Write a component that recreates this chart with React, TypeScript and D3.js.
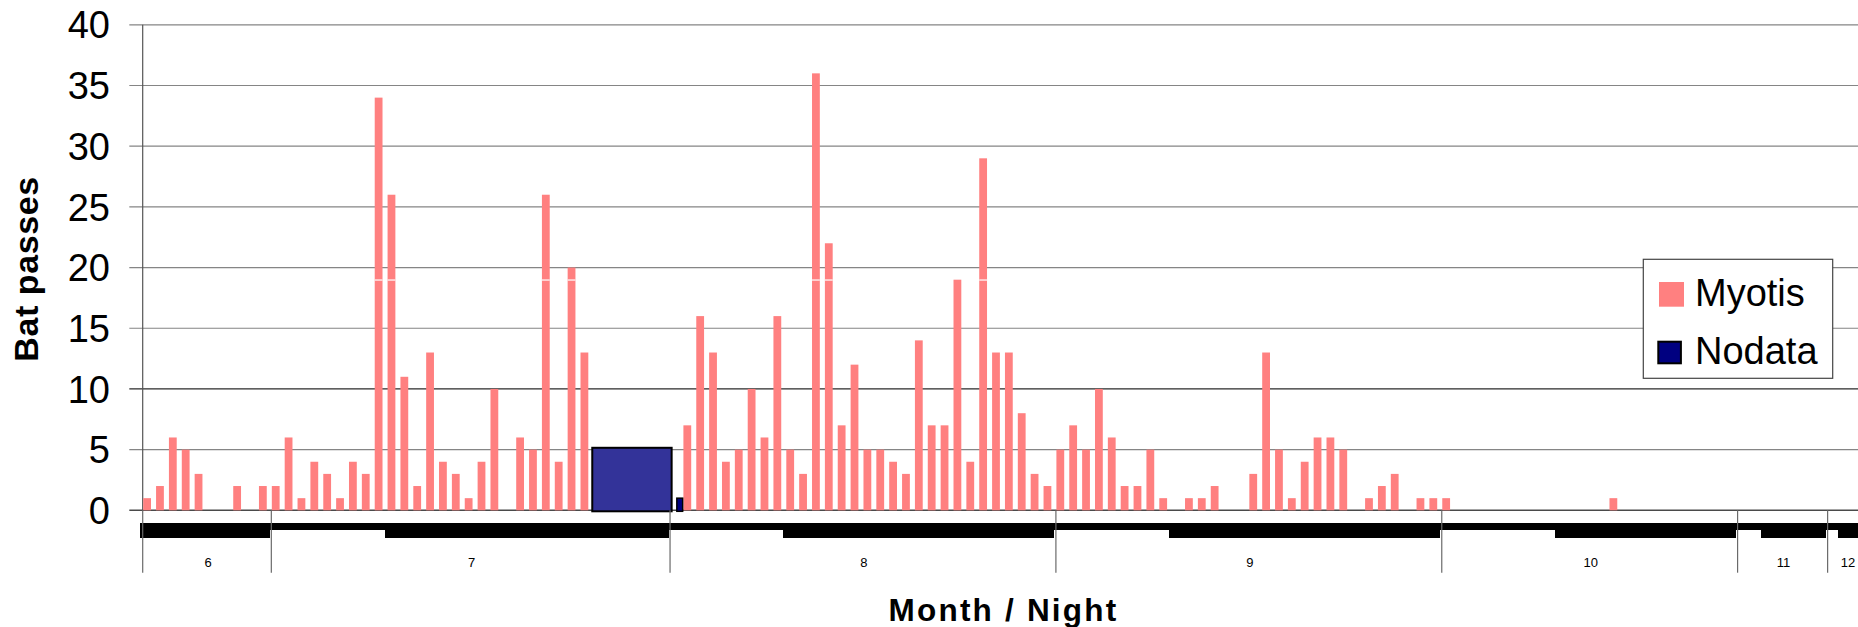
import React, { useEffect, useRef } from 'react';
import * as d3 from 'd3';

// month groups of the category axis
const months = ['6', '7', '8', '9', '10', '11', '12'];

// nights recorded in each month (inner category level)
const nights: number[][] = [
  [21, 22, 23, 24, 25, 26, 27, 28, 29, 30],
  [1, 2, 3, 4, 5, 6, 7, 8, 9, 10, 11, 12, 13, 14, 15, 16, 17, 18, 19, 20, 21, 22, 23, 24, 25, 26, 27, 28, 29, 30, 31],
  [1, 2, 3, 4, 5, 6, 7, 8, 9, 10, 11, 12, 13, 14, 15, 16, 17, 18, 19, 20, 21, 22, 23, 24, 25, 26, 27, 28, 29, 30],
  [1, 2, 3, 4, 5, 6, 7, 8, 9, 10, 11, 12, 13, 14, 15, 16, 17, 18, 19, 20, 21, 22, 23, 24, 25, 26, 27, 28, 29, 30],
  [1, 2, 3, 4, 5, 6, 7, 8, 9, 10, 11, 12, 13, 14, 15, 16, 17, 18, 19, 20, 21, 22, 23],
  [8, 9, 10, 11, 12, 13, 14],
  [9, 10, 11],
];

// Myotis bat passes per night
const myotis: number[][] = [
  [1, 2, 6, 5, 3, 0, 0, 2, 0, 2],
  [2, 6, 1, 4, 3, 1, 4, 3, 34, 26, 11, 2, 13, 4, 3, 1, 4, 10, 0, 6, 5, 26, 4, 20, 13, 0, 0, 0, 0, 0, 0],
  [0, 7, 16, 13, 4, 5, 10, 6, 16, 5, 3, 36, 22, 7, 12, 5, 5, 4, 3, 14, 7, 7, 19, 4, 29, 13, 13, 8, 3, 2],
  [5, 7, 5, 10, 6, 2, 2, 5, 1, 0, 1, 1, 2, 0, 0, 3, 13, 5, 1, 4, 6, 6, 5, 0, 1, 2, 3, 0, 1, 1],
  [1, 0, 0, 0, 0, 0, 0, 0, 0, 0, 0, 0, 0, 1, 0, 0, 0, 0, 0, 0, 0, 0, 0],
  [0, 0, 0, 0, 0, 0, 0],
  [0, 0, 0],
];

// nights without recordings
const nodata: number[][] = [
  [0, 0, 0, 0, 0, 0, 0, 0, 0, 0],
  [0, 0, 0, 0, 0, 0, 0, 0, 0, 0, 0, 0, 0, 0, 0, 0, 0, 0, 0, 0, 0, 0, 0, 0, 0, 5.15, 5.15, 5.15, 5.15, 5.15, 5.15],
  [1, 0, 0, 0, 0, 0, 0, 0, 0, 0, 0, 0, 0, 0, 0, 0, 0, 0, 0, 0, 0, 0, 0, 0, 0, 0, 0, 0, 0, 0],
  [0, 0, 0, 0, 0, 0, 0, 0, 0, 0, 0, 0, 0, 0, 0, 0, 0, 0, 0, 0, 0, 0, 0, 0, 0, 0, 0, 0, 0, 0],
  [0, 0, 0, 0, 0, 0, 0, 0, 0, 0, 0, 0, 0, 0, 0, 0, 0, 0, 0, 0, 0, 0, 0],
  [0, 0, 0, 0, 0, 0, 0],
  [0, 0, 0],
];

const yTicks = [0, 5, 10, 15, 20, 25, 30, 35, 40];
const series = ['Myotis', 'Nodata'];

const FONT = '"Liberation Sans", Arial, sans-serif';

type Slot = { month: string; night: number; myotis: number; nodata: number; first: boolean };

const Chart: React.FC = () => {
  const svgRef = useRef<SVGSVGElement | null>(null);

  useEffect(() => {
    const slots: Slot[] = months.flatMap((m, mi) =>
      nights[mi].map((n, ni) => ({ month: m, night: n, myotis: myotis[mi][ni], nodata: nodata[mi][ni], first: ni === 0 }))
    );

    const W = 1858;
    const step = 12.862;
    const x = d3.scaleLinear().domain([0, slots.length]).range([142.7, 142.7 + slots.length * step]);
    const y = d3.scaleLinear().domain([0, 40]).range([510.3, 24.8]);

    const svg = d3.select(svgRef.current);
    svg.selectAll('*').remove();

    // gridlines + y ticks
    const grid = svg.append('g');
    grid.selectAll('line')
      .data(yTicks)
      .join('line')
      .attr('x1', 129.3)
      .attr('x2', W)
      .attr('y1', d => y(d))
      .attr('y2', d => y(d))
      .attr('stroke', d => (d === 10 ? '#2a2a2a' : d === 0 ? '#4a4a4a' : '#858585'))
      .attr('stroke-width', d => (d === 0 ? 1.6 : 1.2));

    svg.append('g').selectAll('text')
      .data(yTicks)
      .join('text')
      .attr('x', 110)
      .attr('y', d => y(d))
      .attr('dy', '0.36em')
      .attr('text-anchor', 'end')
      .attr('font-family', FONT)
      .attr('font-size', 38)
      .attr('fill', '#000')
      .text(d => d);

    // y axis line
    svg.append('line')
      .attr('x1', x(0)).attr('x2', x(0))
      .attr('y1', y(40)).attr('y2', y(0))
      .attr('stroke', '#555').attr('stroke-width', 1.2);

    // Myotis bars
    svg.append('g').selectAll('rect')
      .data(slots.map((s, i) => ({ ...s, i })).filter(d => d.myotis > 0))
      .join('rect')
      .attr('x', d => x(d.i) + 0.5)
      .attr('width', 7.8)
      .attr('y', d => y(d.myotis))
      .attr('height', d => y(0) - y(d.myotis))
      .attr('fill', '#FF8080');

    // white break across the tall bars
    const breakAt = 18.98;
    svg.append('g').selectAll('rect')
      .data(slots.map((s, i) => ({ ...s, i })).filter(d => d.myotis > breakAt + 0.5))
      .join('rect')
      .attr('x', d => x(d.i) + 0.5)
      .attr('width', 7.8)
      .attr('y', y(breakAt) - 0.5)
      .attr('height', 1.2)
      .attr('fill', '#fff');

    // Nodata: runs of equal values merge into one block
    const runs: { start: number; end: number; value: number }[] = [];
    slots.forEach((s, i) => {
      if (s.nodata <= 0) return;
      const last = runs[runs.length - 1];
      if (last && last.end === i && last.value === s.nodata) last.end = i + 1;
      else runs.push({ start: i, end: i + 1, value: s.nodata });
    });
    svg.append('g').selectAll('rect')
      .data(runs)
      .join('rect')
      .attr('x', d => (d.end - d.start > 1 ? x(d.start) - 0.6 : x(d.start) + 6.8))
      .attr('width', d => (d.end - d.start > 1 ? x(d.end) - x(d.start) + 2.2 : 5.8))
      .attr('y', d => y(d.value))
      .attr('height', d => y(0) - y(d.value) + 1)
      .attr('fill', d => (d.end - d.start > 1 ? '#333399' : '#000080'))
      .attr('stroke', '#000')
      .attr('stroke-width', d => (d.end - d.start > 1 ? 2 : 1.5));

    // night labels of the inner category level, packed so tight they read as a black band
    svg.append('g')
      .attr('shape-rendering', 'crispEdges')
      .selectAll('rect')
      .data(slots.map((s, i) => ({ ...s, i })))
      .join('rect')
      .attr('x', d => x(d.i) - 2.5)
      .attr('width', step + 1)
      .attr('y', 523)
      .attr('height', d => (String(d.night).length > 1 ? 14.7 : 7.3))
      .attr('fill', '#000');

    // month separators and labels
    const monthStarts = slots.map((s, i) => ({ ...s, i })).filter(d => d.first);
    svg.append('g').selectAll('line')
      .data(monthStarts)
      .join('line')
      .attr('x1', d => x(d.i)).attr('x2', d => x(d.i))
      .attr('y1', y(0)).attr('y2', 572.7)
      .attr('stroke', '#6a6a6a').attr('stroke-width', 1.2);

    svg.append('g').selectAll('text')
      .data(months)
      .join('text')
      .attr('x', (m, mi) => {
        const a = monthStarts[mi].i;
        return (x(a) + x(a + nights[mi].length)) / 2 + 1;
      })
      .attr('y', 566.7)
      .attr('text-anchor', 'middle')
      .attr('font-family', FONT)
      .attr('font-size', 13)
      .attr('fill', '#000')
      .text(d => d);

    // axis titles
    svg.append('text')
      .attr('transform', 'translate(37.5,269) rotate(-90)')
      .attr('text-anchor', 'middle')
      .attr('font-family', FONT)
      .attr('font-weight', 'bold')
      .attr('font-size', 34)
      .attr('letter-spacing', 0.6)
      .text('Bat passes');

    svg.append('text')
      .attr('x', 1003.5)
      .attr('y', 621)
      .attr('text-anchor', 'middle')
      .attr('font-family', FONT)
      .attr('font-weight', 'bold')
      .attr('font-size', 31.5)
      .attr('letter-spacing', 2.2)
      .text('Month / Night');

    // legend
    const lg = svg.append('g');
    lg.append('rect')
      .attr('x', 1643.3).attr('y', 259.3)
      .attr('width', 189.4).attr('height', 119)
      .attr('fill', '#fff').attr('stroke', '#444').attr('stroke-width', 1.2);
    const items = lg.selectAll('g')
      .data(series)
      .join('g')
      .attr('transform', (d, i) => `translate(0,${i * 58.5})`);
    items.append('rect')
      .attr('x', (d, i) => (i === 0 ? 1659 : 1658.3))
      .attr('y', (d, i) => (i === 0 ? 282 : 283.2))
      .attr('width', (d, i) => (i === 0 ? 25 : 22.6))
      .attr('height', (d, i) => (i === 0 ? 24.7 : 21.6))
      .attr('fill', (d, i) => (i === 0 ? '#FF8080' : '#000080'))
      .attr('stroke', (d, i) => (i === 0 ? 'none' : '#000'))
      .attr('stroke-width', 2);
    items.append('text')
      .attr('x', 1695)
      .attr('y', 305.5)
      .attr('font-family', FONT)
      .attr('font-size', 38)
      .attr('fill', '#000')
      .text(d => d);

    return () => {
      svg.selectAll('*').remove();
    };
  }, []);

  return (
    <svg
      ref={svgRef}
      width={1858}
      height={627}
      style={{ position: 'absolute', left: 0, top: 0, background: '#fff' }}
    />
  );
};

export default function App() {
  return <Chart />;
}
